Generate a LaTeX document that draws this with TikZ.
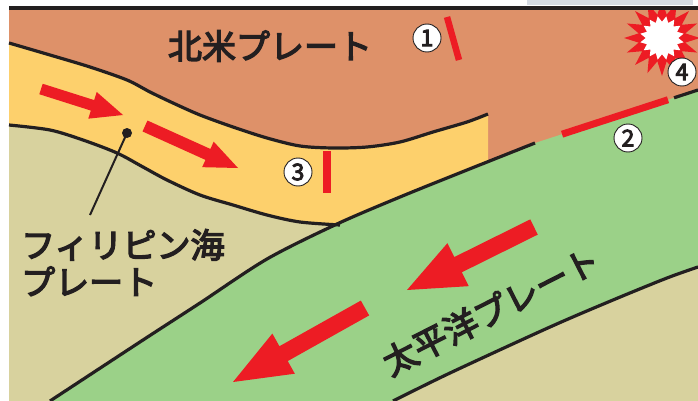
\documentclass[tikz,border=0pt]{standalone}
\usepackage{fontspec}
\setmainfont{Noto Sans CJK JP}
\newfontfamily\platefont{Noto Sans CJK JP}[FakeBold=4]
\usetikzlibrary{shapes.geometric,calc}

\definecolor{naplate}{RGB}{222,145,105}
\definecolor{phupper}{RGB}{253,208,108}
\definecolor{phlower}{RGB}{216,210,158}
\definecolor{pacific}{RGB}{155,209,136}
\definecolor{quake}{RGB}{237,28,36}
\definecolor{ink}{RGB}{35,31,32}
\definecolor{tabgray}{RGB}{214,219,227}

% thick red motion arrow: tail, tip, half shaft width, head length, half head width
\newcommand{\platearrow}[5]{%
  \coordinate (#2-base) at ($(#2)!#4!(#1)$);
  \fill[quake] ($(#1)!#3!90:(#2)$) -- ($(#2-base)!#3!90:(#2)$)
    -- ($(#2-base)!#5!90:(#2)$) -- (#2) -- ($(#2-base)!#5!-90:(#2)$)
    -- ($(#2-base)!#3!-90:(#2)$) -- ($(#1)!#3!-90:(#2)$) -- cycle;}

\begin{document}
\begin{tikzpicture}[x=1pt,y=-1pt,
  boundary/.style={draw=ink,line width=3.2pt},
  faultbar/.style={draw=quake,line width=#1},
  platelabel/.style={text=ink,inner sep=0pt,font=\platefont\fontsize{34}{37}\selectfont},
  numcircle/.style={circle,draw=ink,line width=0.9pt,fill=white,minimum size=28pt,
    inner sep=0pt,text=ink,font=\platefont\fontsize{23}{23}\selectfont}]

\useasboundingbox (0,0) rectangle (698,401);
\fill[white] (0,0) rectangle (698,401);

% plate bodies
\fill[naplate] (9,10) rectangle (698,401);
\fill[phupper] plot[smooth] coordinates {(9,43) (50,55) (90,67) (127,80) (150,92)
  (173,103) (200,115) (233,127) (267,138) (300,146) (333,148) (367,147) (400,142)
  (433,132) (467,122) (488,114)} -- (488,262) -- (9,262) -- cycle;
\fill[phlower] plot[smooth] coordinates {(9,125) (50,130) (83,140) (117,153) (143,167)
  (167,180) (200,195) (233,205) (267,215) (300,222) (340,225)}
  -- (390,401) -- (9,401) -- cycle;
\fill[pacific] plot[smooth] coordinates {(50,401) (143,340) (200,303) (267,259)
  (337,224) (400,197) (467,170) (535,143)} -- (698,90) -- (698,267)
  -- plot[smooth] coordinates {(698,267) (667,278) (613,300) (550,327) (450,373) (393,401)}
  -- cycle;
\fill[phlower] plot[smooth] coordinates {(393,401) (450,373) (550,327) (613,300)
  (667,278) (698,267)} -- (698,401) -- cycle;

% plate boundaries
\draw[boundary] plot[smooth] coordinates {(9,43) (50,55) (90,67) (127,80) (150,92)
  (173,103) (200,115) (233,127) (267,138) (300,146) (333,148) (367,147) (400,142)
  (433,132) (467,122) (488,114)};
\draw[boundary] plot[smooth] coordinates {(9,125) (50,130) (83,140) (117,153) (143,167)
  (167,180) (200,195) (233,205) (267,215) (300,222) (340,225)};
\draw[boundary] plot[smooth] coordinates {(50,401) (143,340) (200,303) (267,259)
  (337,224) (400,197) (467,170) (535,143)};
\draw[boundary] plot[smooth] coordinates {(393,401) (450,373) (550,327) (613,300)
  (667,278) (698,267)};

\coordinate (g2) at (535,143);
\coordinate (g3) at (698,90);
\draw[boundary] ($(g2)!0.853!(g3)$) -- (g3);

% source regions
\coordinate (f1a) at (447,17);  \coordinate (f1b) at (459,60);
\coordinate (f3a) at (327,151); \coordinate (f3b) at (327,193);
\draw[faultbar=6.5pt] (f1a) -- (f1b);
\draw[faultbar=8pt] (f3a) -- (f3b);
\draw[faultbar=7pt] ($(g2)!0.166!(g3)$) -- ($(g2)!0.816!(g3)$);

% plate motion
\coordinate (a1t) at (41,89);   \coordinate (a1h) at (123,115);
\coordinate (a2t) at (145,126); \coordinate (a2h) at (238,168);
\coordinate (a3t) at (534,227); \coordinate (a3h) at (407,290);
\coordinate (a4t) at (365,308); \coordinate (a4h) at (233,382);
\platearrow{a1t}{a1h}{5.5pt}{32pt}{14pt}
\platearrow{a2t}{a2h}{6pt}{33pt}{14pt}
\platearrow{a3t}{a3h}{8.5pt}{57pt}{24pt}
\platearrow{a4t}{a4h}{8.5pt}{58pt}{23pt}

% leader for the Philippine Sea plate
\node[circle,fill=ink,minimum size=10pt,inner sep=0pt] (dot) at (127,133) {};
\coordinate (lead) at (90,215);
\draw[ink,line width=2pt] (dot.center) -- (lead);

% labels
\node[platelabel] (na) at (270,46) {北米プレート};
\node[platelabel,anchor=north west,align=left] (ph) at (21,229) {フィリピン海\\プレート};
\node[platelabel,rotate=27] (pa) at (491,311) {太平洋プレート};

% earthquake burst
\node[star,star points=16,star point ratio=1.6,minimum size=76pt,fill=quake,inner sep=0pt]
  (burst) at (662,38) {};
\node[star,star points=16,star point ratio=1.35,minimum size=44pt,fill=white,inner sep=0pt,
  rotate=11.25] (flash) at (662,38) {};

% numbered markers
\node[numcircle] (c1) at (427,38) {1};
\node[numcircle] (c2) at (628,138) {2};
\node[numcircle] (c3) at (298,172) {3};
\node[numcircle] (c4) at (682,72) {4};

% frame top
\fill[white] (0,0) rectangle (698,6);
\fill[tabgray] (527,0) rectangle (693,5);
\fill[ink] (9,6) rectangle (698,10.5);
\end{tikzpicture}
\end{document}
